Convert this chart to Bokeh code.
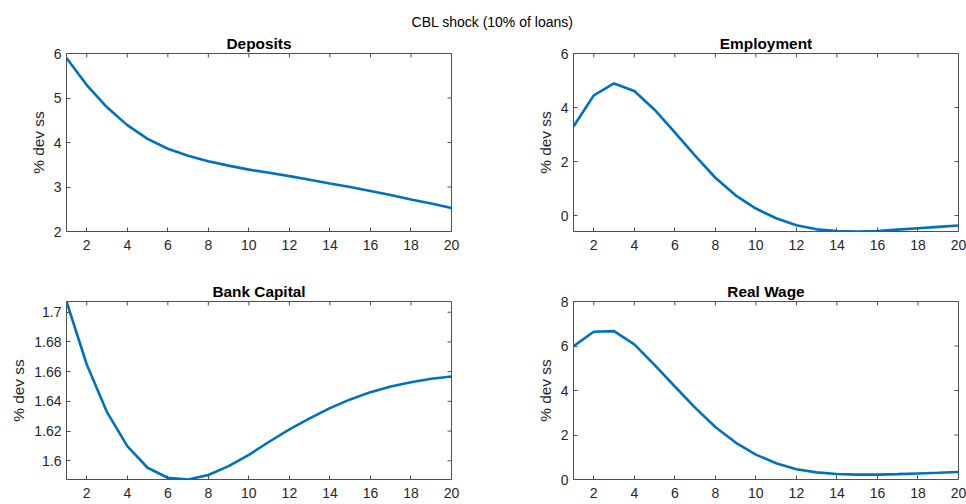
import math
from bokeh.plotting import figure
from bokeh.layouts import column, row
from bokeh.models import Range1d, FixedTicker, CustomJSTickFormatter
from bokeh.core.properties import value
from bokeh.embed import file_html
from bokeh.resources import INLINE

# ---- data ----
periods = [1, 2, 3, 4, 5, 6, 7, 8, 9, 10, 11, 12, 13, 14, 15, 16, 17, 18, 19, 20]
deposits = [5.90, 5.29, 4.79, 4.39, 4.08, 3.86, 3.70, 3.58, 3.48, 3.39,
            3.32, 3.245, 3.165, 3.08, 3.00, 2.91, 2.82, 2.72, 2.63, 2.53]
employment = [3.30, 4.45, 4.89, 4.61, 3.92, 3.08, 2.22, 1.40, 0.75, 0.26,
              -0.10, -0.36, -0.51, -0.57, -0.59, -0.57, -0.52, -0.47, -0.42, -0.37]
bank_capital = [1.7072, 1.6648, 1.6327, 1.6099, 1.5953, 1.5886, 1.5874, 1.5904, 1.5964, 1.6040,
                1.6128, 1.6211, 1.6285, 1.6354, 1.6413, 1.6462, 1.6500, 1.6529, 1.6552, 1.6567]
real_wage = [5.99, 6.64, 6.67, 6.07, 5.15, 4.18, 3.23, 2.36, 1.66, 1.12,
             0.73, 0.46, 0.32, 0.25, 0.22, 0.22, 0.24, 0.27, 0.30, 0.34]

x_ticks = [2, 4, 6, 8, 10, 12, 14, 16, 18, 20]
deposits_ticks = [2, 3, 4, 5, 6]
employment_ticks = [0, 2, 4, 6]
bank_capital_ticks = [1.6, 1.62, 1.64, 1.66, 1.68, 1.7]
real_wage_ticks = [0, 2, 4, 6, 8]

suptitle = "CBL shock (10% of loans)"
panel_titles = ["Deposits", "Employment", "Bank Capital", "Real Wage"]
y_label = "% dev ss"

# ---- style ----
FONT = "Liberation Sans"
AX = "#505050"
TXT = "#262626"
LINE = "#0072BD"
X_MIN, X_MAX = 1, 20

fmt = CustomJSTickFormatter(code="return String(+tick.toFixed(6));")


def panel(title, ys, yr, yticks, width, height, bl, br, bt, bb):
    p = figure(width=width, height=height, output_backend="svg", toolbar_location=None,
               x_range=Range1d(X_MIN, X_MAX), y_range=Range1d(*yr),
               min_border_left=bl, min_border_right=br, min_border_top=bt, min_border_bottom=bb,
               background_fill_color="white", border_fill_color="white")
    p.title.text = title
    p.title.text_font = FONT
    p.title.text_font_size = "15.4px"
    p.title.text_font_style = "bold"
    p.title.text_color = "black"
    p.title.align = "center"
    p.title.standoff = 3
    p.outline_line_color = AX
    p.outline_line_width = 1
    p.grid.visible = False

    xa = p.xaxis[0]
    ya = p.yaxis[0]
    xa.ticker = FixedTicker(ticks=x_ticks)
    ya.ticker = FixedTicker(ticks=yticks)
    ya.formatter = fmt
    ya.axis_label = y_label
    ya.axis_label_text_font = FONT
    ya.axis_label_text_font_size = "15.4px"
    ya.axis_label_text_font_style = "normal"
    ya.axis_label_text_color = TXT
    ya.axis_label_standoff = 4
    for a in (xa, ya):
        a.axis_line_color = None
        a.major_tick_line_color = AX
        a.major_tick_in = 4
        a.major_tick_out = 0
        a.minor_tick_line_color = None
        a.major_label_text_font = FONT
        a.major_label_text_font_size = "14px"
        a.major_label_text_color = TXT
    xa.major_label_standoff = 8
    ya.major_label_standoff = 5

    # mirrored inward ticks on top and right edges (MATLAB box style)
    p.ray(x=x_ticks, y=[yr[1]] * len(x_ticks), length=4, length_units="screen",
          angle=-math.pi / 2, line_color=AX, line_width=1)
    p.ray(x=[X_MAX] * len(yticks), y=yticks, length=4, length_units="screen",
          angle=math.pi, line_color=AX, line_width=1)

    p.line(periods, ys, line_color=LINE, line_width=2.6)
    return p


# header with the overall title
header = figure(width=966, height=30, output_backend="svg", toolbar_location=None,
                x_range=Range1d(0, 966), y_range=Range1d(0, 30),
                min_border=0, outline_line_color=None)
header.axis.visible = False
header.grid.visible = False
header.text(x=[492], y=[8.5], text=[suptitle], text_font=value(FONT),
            text_font_size="14px", text_align="center", text_baseline="alphabetic",
            text_color="black")

LW, RW = 512, 454
p1 = panel(panel_titles[0], deposits, (2, 6), deposits_ticks, LW, 236, 66, 61, 23, 35)
p2 = panel(panel_titles[1], employment, (-0.59, 6), employment_ticks, RW, 236, 61, 8, 23, 35)
p3 = panel(panel_titles[2], bank_capital, (1.5874, 1.7072), bank_capital_ticks, LW, 238, 66, 61, 35, 25)
p4 = panel(panel_titles[3], real_wage, (0, 8), real_wage_ticks, RW, 238, 61, 8, 35, 25)

layout = column(header, row(p1, p2), row(p3, p4))

open("out.html", "w").write(file_html(layout, INLINE))
